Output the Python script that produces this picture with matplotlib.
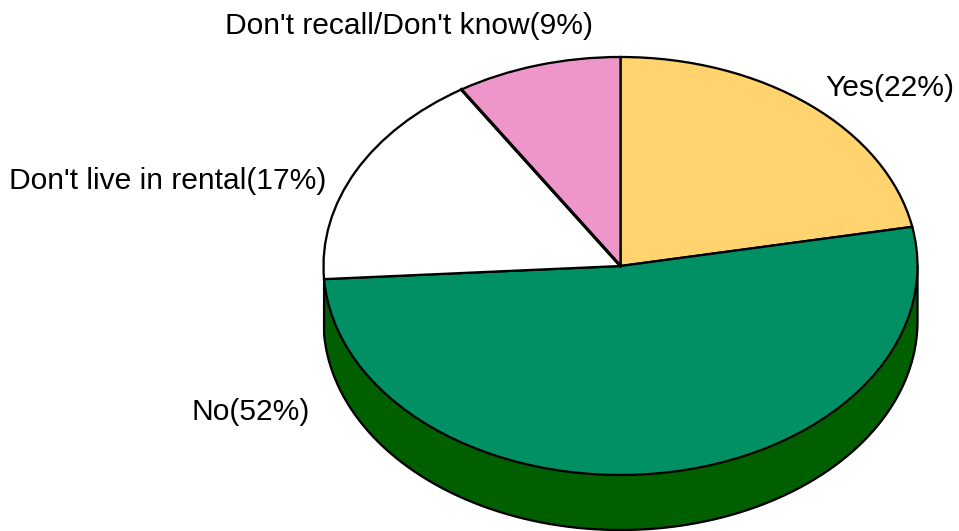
import matplotlib
matplotlib.use("Agg")
import matplotlib.pyplot as plt
import numpy as np

categories = ["Yes", "No", "Don't live in rental", "Don't recall/Don't know"]
shares = [22, 52, 17, 9]
colors = ["#FFD36E", "#009063", "#FFFFFF", "#EE96CA"]
side_color = "#006000"

WIDTH, HEIGHT = 959, 531
CX, CY = 620.5, 266
RX, RY = 297, 209
DEPTH = 55 / RY
LW = 1.65
# label anchors in pixels from the top left (left edge, vertical centre)
label_pos = [(825, 88), (192, 412), (9, 181), (225, 26)]

plt.rcParams["font.family"] = ["Liberation Sans", "DejaVu Sans"]

fig = plt.figure(figsize=(WIDTH / 100, HEIGHT / 100), dpi=100)
ax = fig.add_axes([0, 0, 1, 1])

# side wall only under the "No" slice, which faces the viewer
start = 90 - 360 * shares[0] / 100
stop = start - 360 * shares[1] / 100
theta = np.radians(np.linspace(max(stop, -180), 0, 300))
x = np.cos(theta)
y = np.sin(theta)
ax.fill_between(x, y - DEPTH, y, color=side_color, lw=0, zorder=1)
# outline as one path so the corners join cleanly
outline_x = np.r_[x[0], x, x[-1]]
outline_y = np.r_[y[0], y - DEPTH, y[-1]]
ax.plot(outline_x, outline_y, color="black", lw=LW, zorder=2, solid_joinstyle="round")

ax.pie(
    shares,
    colors=colors,
    startangle=90,
    counterclock=False,
    radius=1,
    wedgeprops={"edgecolor": "black", "linewidth": LW, "zorder": 3},
)

# the white/pink divider is drawn heavier in the original
divider = np.radians(90 - 360 * sum(shares[:3]) / 100)
ax.plot([0, np.cos(divider)], [0, np.sin(divider)], color="black", lw=2.3, zorder=4)

# stretch the round pie into the tilted ellipse
ax.set_aspect("auto")
ax.set_xlim(-CX / RX, (WIDTH - CX) / RX)
ax.set_ylim((CY - HEIGHT) / RY, CY / RY)
ax.axis("off")

for name, share, (px, py) in zip(categories, shares, label_pos):
    ax.text(px / WIDTH, 1 - py / HEIGHT, f"{name}({share}%)", transform=ax.transAxes,
            fontsize=21.6, ha="left", va="center", color="black", zorder=5)

fig.savefig("out.png", dpi=100)
